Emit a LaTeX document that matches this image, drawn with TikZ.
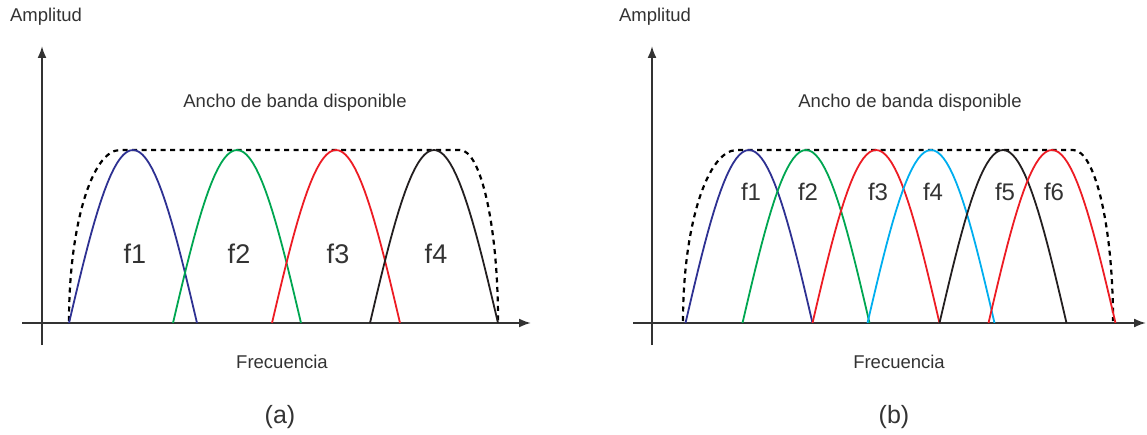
\documentclass[tikz,border=0pt]{standalone}
\usepackage{fontspec}
\setmainfont{Liberation Sans}
\usetikzlibrary{arrows.meta}
\definecolor{lobeblue}{HTML}{2E3192}
\definecolor{lobegreen}{HTML}{00A651}
\definecolor{lobered}{HTML}{ED1C24}
\definecolor{lobecyan}{HTML}{00AEEF}
\definecolor{lobeblack}{HTML}{231F20}
\definecolor{txtgray}{HTML}{333333}
\begin{document}
\begin{tikzpicture}[x=1pt,y=1pt,every node/.style={text=txtgray,inner sep=0pt},
  lbl/.style={font=\fontsize{18.5}{20}\selectfont},
  captxt/.style={font=\fontsize{25}{28}\selectfont},
  axis/.style={line width=2pt,draw=black!80,-{Latex[length=12pt,width=9pt]}},
  band/.style={line width=2.2pt,dash pattern=on 5pt off 4.5pt},
  lobe/.style={line width=1.8pt}]
\useasboundingbox (0,0) rectangle (1147,434);
% (a) cuatro portadoras
\coordinate (ya0) at (42,89);  \coordinate (ya1) at (42,388);
\coordinate (xa0) at (22,111); \coordinate (xa1) at (531,111);
\draw[axis] (ya0) -- (ya1);
\draw[axis] (xa0) -- (xa1);
\draw[band] (69,113) arc[start angle=180,end angle=90,x radius=51,y radius=171] -- (460,284)
  arc[start angle=90,end angle=0,x radius=38,y radius=171];
\foreach \c/\col/\n in {133/lobeblue/1,237/lobegreen/2,336/lobered/3,434/lobeblack/4}{
  \draw[lobe,\col] plot[domain=-1:1,samples=41] ({\c+64*\x},{111+173*cos(90*\x)});
  \node[font=\fontsize{27}{30}\selectfont] (fa\n) at (\c+2,180) {f\n};
}
\node[lbl] (ampa) at (46,417) {Amplitud};
\node[lbl] (banda) at (295,331) {Ancho de banda disponible};
\node[lbl] (freqa) at (282,72) {Frecuencia};
\node[captxt] (capa) at (280,17) {(a)};
% (b) seis portadoras
\coordinate (yb0) at (652,89);  \coordinate (yb1) at (652,388);
\coordinate (xb0) at (633,111); \coordinate (xb1) at (1146,111);
\draw[axis] (yb0) -- (yb1);
\draw[axis] (xb0) -- (xb1);
\draw[band] (683,113) arc[start angle=180,end angle=90,x radius=54,y radius=171] -- (1073,284)
  arc[start angle=90,end angle=0,x radius=40,y radius=171];
\foreach \c/\col/\n in {749/lobeblue/1,806/lobegreen/2,876/lobered/3,931/lobecyan/4,1003/lobeblack/5,1052/lobered/6}{
  \draw[lobe,\col] plot[domain=-1:1,samples=41] ({\c+63.5*\x},{111+173*cos(90*\x)});
  \node[font=\fontsize{24}{27}\selectfont] (fb\n) at (\c+2,242) {f\n};
}
\node[lbl] (ampb) at (655,417) {Amplitud};
\node[lbl] (bandb) at (910,331) {Ancho de banda disponible};
\node[lbl] (freqb) at (899,72) {Frecuencia};
\node[captxt] (capb) at (894,17) {(b)};
\end{tikzpicture}
\end{document}
